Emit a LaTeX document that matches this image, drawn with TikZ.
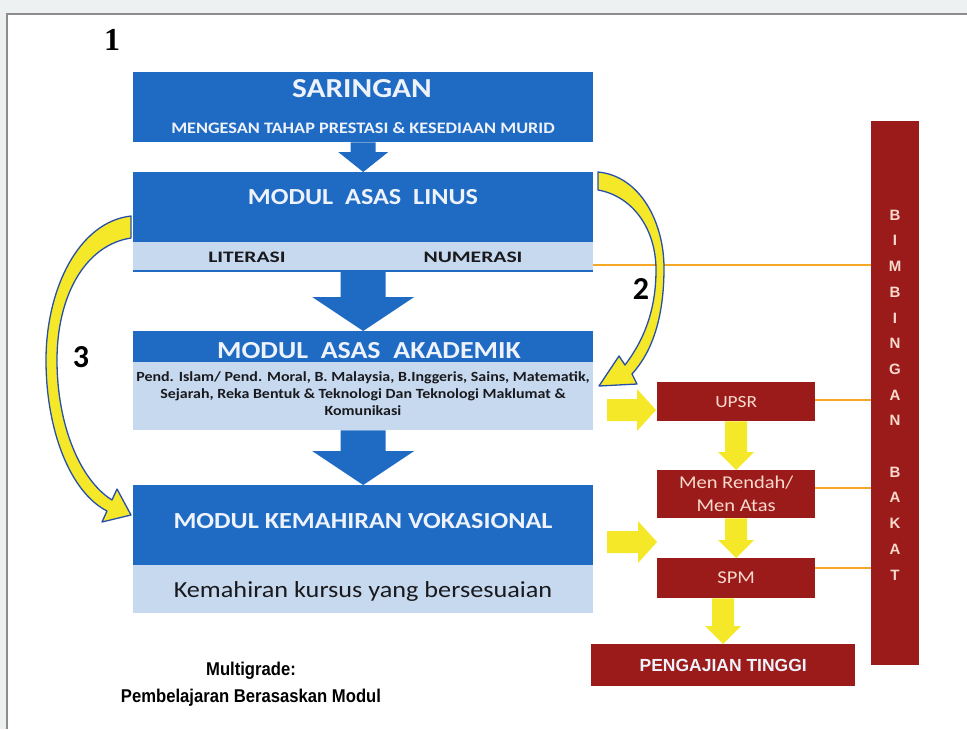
\documentclass[tikz,border=0pt]{standalone}
\usepackage{fontspec}
\setmainfont{Carlito}
\newfontfamily\wfont[FakeStretch=1.14]{Carlito}
\newfontfamily\xfont[FakeStretch=1.35]{Carlito}
\newfontfamily\nfont[FakeStretch=0.9]{Liberation Sans}
\newfontfamily\lfont{Liberation Sans}
\newfontfamily\sfont{Liberation Serif}
\usetikzlibrary{calc}
\definecolor{bgray}{RGB}{238,241,241}
\definecolor{framec}{RGB}{140,140,140}
\definecolor{mblue}{RGB}{31,107,196}
\definecolor{lband}{RGB}{198,217,238}
\definecolor{dred}{RGB}{155,27,27}
\definecolor{ylw}{RGB}{245,232,40}
\definecolor{orng}{RGB}{245,168,35}
\definecolor{redtxt}{RGB}{250,218,205}
\definecolor{wtxt}{RGB}{238,242,250}
\definecolor{dtext}{RGB}{25,25,30}
\definecolor{arrblue}{RGB}{40,80,170}
\newcommand\blockdown[6]{\fill[#6] let \p1=(#1), \p2=(#2) in
  (\x2-#3pt,\y1) -- (\x2+#3pt,\y1) -- (\x2+#3pt,\y2+#5pt) -- (\x2+#4pt,\y2+#5pt) --
  (\x2,\y2) -- (\x2-#4pt,\y2+#5pt) -- (\x2-#3pt,\y2+#5pt) -- cycle;}
\newcommand\blockright[6]{\fill[#6] let \p1=(#1), \p2=(#2) in
  (\x1,\y2+#3pt) -- (\x2-#5pt,\y2+#3pt) -- (\x2-#5pt,\y2+#4pt) --
  (\x2,\y2) -- (\x2-#5pt,\y2-#4pt) -- (\x2-#5pt,\y2-#3pt) -- (\x1,\y2-#3pt) -- cycle;}
\begin{document}
\begin{tikzpicture}[x=1pt,y=-1pt,
  box/.style={inner sep=0pt, anchor=north west, draw=none},
  bluebox/.style={box, fill=mblue, minimum width=460pt},
  bandbox/.style={box, fill=lband, minimum width=460pt},
  redbox/.style={box, fill=dred},
  wtitle/.style={text=wtxt, font=\wfont\bfseries\fontsize{#1}{#1}\selectfont, inner sep=0pt},
  redlabel/.style={text=redtxt, align=center, inner sep=0pt, font=\wfont\fontsize{#1}{#1}\selectfont},
  orline/.style={draw=orng, line width=2pt},
  curvearrow/.style={fill=ylw, draw=arrblue, line width=1.3pt, line join=round}
]
\useasboundingbox (0,0) rectangle (967,729);
\fill[bgray] (0,0) rectangle (967,729);
\fill[white] (7,14) rectangle (967,729);
\draw[framec, line width=1.5pt] (7,729) -- (7,14) -- (967,14);

% ---- left column boxes
\node[bluebox, minimum height=70pt] (sar) at (133,72) {};
\node[wtitle=27.5] (sarT) at (362,89) {SARINGAN};
\node[wtitle=16] (sarS) at (363,128) {MENGESAN TAHAP PRESTASI \& KESEDIAAN MURID};

\node[bluebox, minimum height=70pt] (linus) at (133,172) {};
\node[wtitle=23] (linusT) at (363,197) {MODUL\ \ ASAS\ \ LINUS};
\node[bandbox, minimum height=29pt] (linusB) at (133,242) {};
\draw[mblue, line width=2pt] (linusB.south west) -- (linusB.south east);
\node[text=dtext, font=\xfont\bfseries\fontsize{16}{16}\selectfont, inner sep=0pt] (lit) at (247,257) {LITERASI};
\node[text=dtext, font=\xfont\bfseries\fontsize{16}{16}\selectfont, inner sep=0pt] (num) at (473,257) {NUMERASI};

\node[bluebox, minimum height=31pt] (akad) at (133,331) {};
\node[wtitle=24.5] (akadT) at (369,351) {MODUL\ \ ASAS\ \ AKADEMIK};
\node[bandbox, minimum height=68pt] (akadB) at (133,362) {};
\node[text=dtext, align=center, inner sep=0pt,
      font=\wfont\bfseries\fontsize{14}{17}\selectfont] (akadS) at (363,394)
  {Pend. Islam/ Pend. Moral, B. Malaysia, B.Inggeris, Sains, Matematik,\\
   Sejarah, Reka Bentuk \& Teknologi Dan Teknologi Maklumat \&\\
   Komunikasi};

\node[bluebox, minimum height=80pt] (voka) at (133,485) {};
\node[wtitle=23] (vokaT) at (363,521) {MODUL KEMAHIRAN VOKASIONAL};
\node[bandbox, minimum height=48pt] (vokaB) at (133,565) {};
\node[text=dtext, inner sep=0pt, font=\wfont\fontsize{23}{24}\selectfont] (vokaS) at (363,591)
  {Kemahiran kursus yang bersesuaian};

% ---- blue block arrows
\blockdown{sar.south}{linus.north}{12.5}{25}{20}{mblue}
\blockdown{linusB.south}{akad.north}{22.5}{51}{34}{mblue}
\blockdown{akadB.south}{voka.north}{22.5}{51}{34}{mblue}

% ---- numbers
\node[font=\sfont\bfseries\fontsize{32}{32}\selectfont, inner sep=0pt] (n1) at (112,40) {1};
\node[font=\bfseries\fontsize{32}{32}\selectfont, inner sep=0pt] (n2) at (641,289) {2};
\node[font=\bfseries\fontsize{32}{32}\selectfont, inner sep=0pt] (n3) at (81,357) {3};

% ---- bottom caption
\node[font=\nfont\bfseries\fontsize{18.5}{18.5}\selectfont, inner sep=0pt] (cap1) at (251,671) {Multigrade:};
\node[font=\nfont\bfseries\fontsize{18.5}{18.5}\selectfont, inner sep=0pt] (cap2) at (251,698) {Pembelajaran Berasaskan Modul};

% ---- right column red boxes
\node[redbox, minimum width=158pt, minimum height=39pt] (upsr) at (657,382) {};
\node[redlabel=17] at (upsr.center) {UPSR};
\node[redbox, minimum width=158pt, minimum height=48pt] (men) at (657,470) {};
\node[text=redtxt, align=center, inner sep=0pt, font=\wfont\fontsize{18}{23}\selectfont] at (men.center) {Men Rendah/\\Men Atas};
\node[redbox, minimum width=158pt, minimum height=40pt] (spm) at (657,558) {};
\node[redlabel=18] at (spm.center) {SPM};
\node[redbox, minimum width=264pt, minimum height=42pt] (pt) at (591,644) {};
\node[text=wtxt, font=\lfont\bfseries\fontsize{17.5}{17.5}\selectfont, inner sep=0pt] at (pt.center) {PENGAJIAN TINGGI};

\node[redbox, minimum width=48pt, minimum height=544pt] (bimb) at (871,121) {};
\node[text=redtxt, align=center, inner sep=0pt, font=\lfont\bfseries\fontsize{15}{25.7}\selectfont]
  at (895,395) {B\\I\\M\\B\\I\\N\\G\\A\\N\\[25.7pt]B\\A\\K\\A\\T};

% ---- orange connectors
\coordinate (o1) at (593,265);
\draw[orline] (o1) -- (o1 -| bimb.west);
\draw[orline] ([yshift=2pt]upsr.east) -- ([yshift=2pt]upsr.east -| bimb.west);
\draw[orline] ([yshift=6pt]men.east) -- ([yshift=6pt]men.east -| bimb.west);
\draw[orline] ([yshift=10pt]spm.east) -- ([yshift=10pt]spm.east -| bimb.west);

% ---- yellow block arrows
\coordinate (ya1) at (607,410);
\coordinate (ya1e) at (656,410);
\blockright{ya1}{ya1e}{11}{21}{19}{ylw}
\coordinate (ya2) at (607,542);
\coordinate (ya2e) at (657,542);
\blockright{ya2}{ya2e}{11}{21}{19}{ylw}
\blockdown{upsr.south}{men.north}{11}{18}{18}{ylw}
\blockdown{men.south}{spm.north}{11}{18}{18}{ylw}
\blockdown{spm.south}{pt.north}{11}{18}{18}{ylw}

% ---- curved arrow 2 (right)
\filldraw[curvearrow]
  (598,172) .. controls (640,176) and (664,222) .. (664,268)
  .. controls (664,318) and (652,352) .. (632,374)
  -- (637,384) -- (599,386) -- (619,356) -- (625,365)
  .. controls (644,340) and (656,310) .. (656,270)
  .. controls (656,228) and (632,196) .. (598,190) -- cycle;

% ---- curved arrow 3 (left)
\filldraw[curvearrow]
  (131,216) .. controls (78,222) and (46,290) .. (46,360)
  .. controls (46,430) and (70,492) .. (107,511)
  -- (102,522) -- (131,515) -- (117,489) -- (112,500)
  .. controls (80,480) and (57,425) .. (57,360)
  .. controls (57,296) and (85,245) .. (131,238) -- cycle;
\end{tikzpicture}
\end{document}
